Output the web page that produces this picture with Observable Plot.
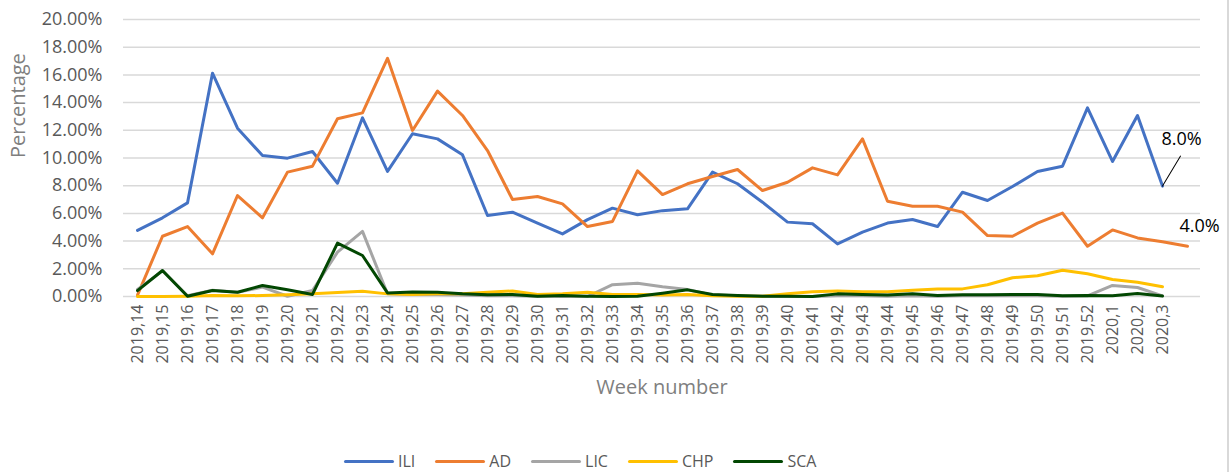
<!DOCTYPE html>
<html><head><meta charset="utf-8">
<script src="https://cdn.jsdelivr.net/npm/d3@7"></script>
<script src="https://cdn.jsdelivr.net/npm/@observablehq/plot@0.6"></script>
<style>
body{margin:0;background:#fff;font-family:"Open Sans",sans-serif;}
#wrap{position:relative;width:1231px;height:472px;overflow:hidden;background:#fff;}
#frame{position:absolute;left:1227px;top:0;width:2px;height:472px;background:#d9d9d9;}
#legend{position:absolute;left:344px;top:451px;height:20px;display:flex;align-items:center;gap:20px;font-size:16px;color:#595959;}
.item{display:flex;align-items:center;gap:4px;}
.sw{width:50px;height:3px;border-radius:2px;}
</style></head><body>
<div id="wrap"><div id="chart"></div><div id="legend"></div><div id="frame"></div></div>
<script>
const weeks = ["2019,14","2019,15","2019,16","2019,17","2019,18","2019,19","2019,20","2019,21","2019,22","2019,23","2019,24","2019,25","2019,26","2019,27","2019,28","2019,29","2019,30","2019,31","2019,32","2019,33","2019,34","2019,35","2019,36","2019,37","2019,38","2019,39","2019,40","2019,41","2019,42","2019,43","2019,44","2019,45","2019,46","2019,47","2019,48","2019,49","2019,50","2019,51","2019,52","2020,1","2020,2","2020,3",""];
const series = ["ILI","AD","LIC","CHP","SCA"];
const colors = ["#4472C4","#ED7D31","#A5A5A5","#FFC000","#024702"];
const ILI = [4.77,5.68,6.76,16.12,12.15,10.18,9.99,10.47,8.18,12.9,9.03,11.75,11.38,10.23,5.85,6.09,5.3,4.52,5.55,6.38,5.9,6.2,6.33,8.98,8.14,6.81,5.37,5.25,3.8,4.65,5.3,5.56,5.05,7.53,6.93,7.94,9.03,9.41,13.62,9.75,13.07,7.97,null];
const AD = [0.1,4.35,5.05,3.08,7.29,5.68,8.98,9.41,12.83,13.26,17.2,11.99,14.83,13.07,10.54,7.0,7.22,6.69,5.05,5.42,9.07,7.36,8.14,8.66,9.17,7.65,8.25,9.29,8.78,11.38,6.88,6.52,6.52,6.09,4.4,4.35,5.3,6.02,3.63,4.81,4.23,3.96,3.63];
const LIC = [0.5,1.85,0.05,0.45,0.3,0.68,0.02,0.43,3.2,4.7,0.2,0.15,0.15,0.1,0.05,0.05,0.02,0.0,0.0,0.85,0.95,0.7,0.5,0.1,0.05,0.02,0.0,0.0,0.05,0.05,0.02,0.05,0.02,0.05,0.05,0.05,0.05,0.02,0.05,0.8,0.65,0.05,null];
const CHP = [0,0,0.02,0.07,0.05,0.07,0.12,0.19,0.29,0.38,0.19,0.15,0.2,0.2,0.3,0.4,0.15,0.2,0.3,0.15,0.15,0.1,0.15,0.05,0.02,0.02,0.2,0.35,0.4,0.35,0.35,0.45,0.55,0.55,0.85,1.35,1.5,1.9,1.64,1.23,1.03,0.7,null];
const SCA = [0.43,1.88,0.02,0.43,0.31,0.79,0.48,0.15,3.85,2.96,0.26,0.33,0.31,0.19,0.12,0.14,0.02,0.07,0.02,0.0,0.02,0.24,0.48,0.14,0.07,0.02,0.02,0.0,0.19,0.14,0.1,0.19,0.07,0.12,0.12,0.14,0.14,0.05,0.07,0.05,0.22,0.03,null];
const yTicks = [0,2,4,6,8,10,12,14,16,18,20];
const labelWeek = "2020,3";
const labelSeries = ["ILI","AD"];

const valuesBySeries = {ILI, AD, LIC, CHP, SCA};
const rows = [];
series.forEach(s => valuesBySeries[s].forEach((v, i) => { if (v != null) rows.push({series: s, week: weeks[i], value: v}); }));
const lab = s => rows.filter(d => d.series === s && d.week === labelWeek);

const chart = Plot.plot({
  width: 1231, height: 445,
  marginLeft: 123, marginRight: 31, marginTop: 19, marginBottom: 149,
  x: {type: "point", domain: weeks, padding: 0.5},
  y: {domain: [0, 20]},
  color: {domain: series, range: colors},
  style: {fontFamily: "Open Sans, sans-serif", color: "#595959", background: "white"},
  marks: [
    Plot.ruleY(yTicks, {stroke: "#d9d9d9", strokeWidth: 1.5}),
    Plot.axisY({ticks: yTicks, tickFormat: d => d.toFixed(2) + "%", tickSize: 0, tickPadding: 21, fontSize: 18, label: null}),
    Plot.axisX({tickSize: 0, tickPadding: 8, tickRotate: -90, fontSize: 16, label: null}),
    Plot.line(rows, {x: "week", y: "value", z: "series", stroke: "series", strokeWidth: 3, strokeLinejoin: "round", strokeLinecap: "round"}),
    Plot.vector(lab(labelSeries[0]), {x: "week", y: "value", length: 35, rotate: 31, anchor: "start", stroke: "black", strokeWidth: 1,
      shape: {draw(ctx, l) { ctx.moveTo(0, 0); ctx.lineTo(0, -l); }}}),
    Plot.text(lab(labelSeries[0]), {x: "week", y: "value", text: d => d.value.toFixed(1) + "%", dx: 19, dy: -47, fontSize: 18, fill: "black"}),
    Plot.text(lab(labelSeries[1]), {x: "week", y: "value", text: d => d.value.toFixed(1) + "%", dx: 37, dy: -15, fontSize: 18, fill: "black"}),
    Plot.text(["Percentage"], {frameAnchor: "left", dx: -105, rotate: -90, fontSize: 20, fill: "#7f7f7f"}),
    Plot.text(["Week number"], {frameAnchor: "bottom", dy: 97, fontSize: 20, fill: "#7f7f7f"})
  ]
});
document.getElementById("chart").appendChild(chart);

const legend = d3.select("#legend");
series.forEach((s, i) => {
  const it = legend.append("div").attr("class", "item");
  it.append("div").attr("class", "sw").style("background", colors[i]);
  it.append("span").text(s);
});
</script>
</body></html>
